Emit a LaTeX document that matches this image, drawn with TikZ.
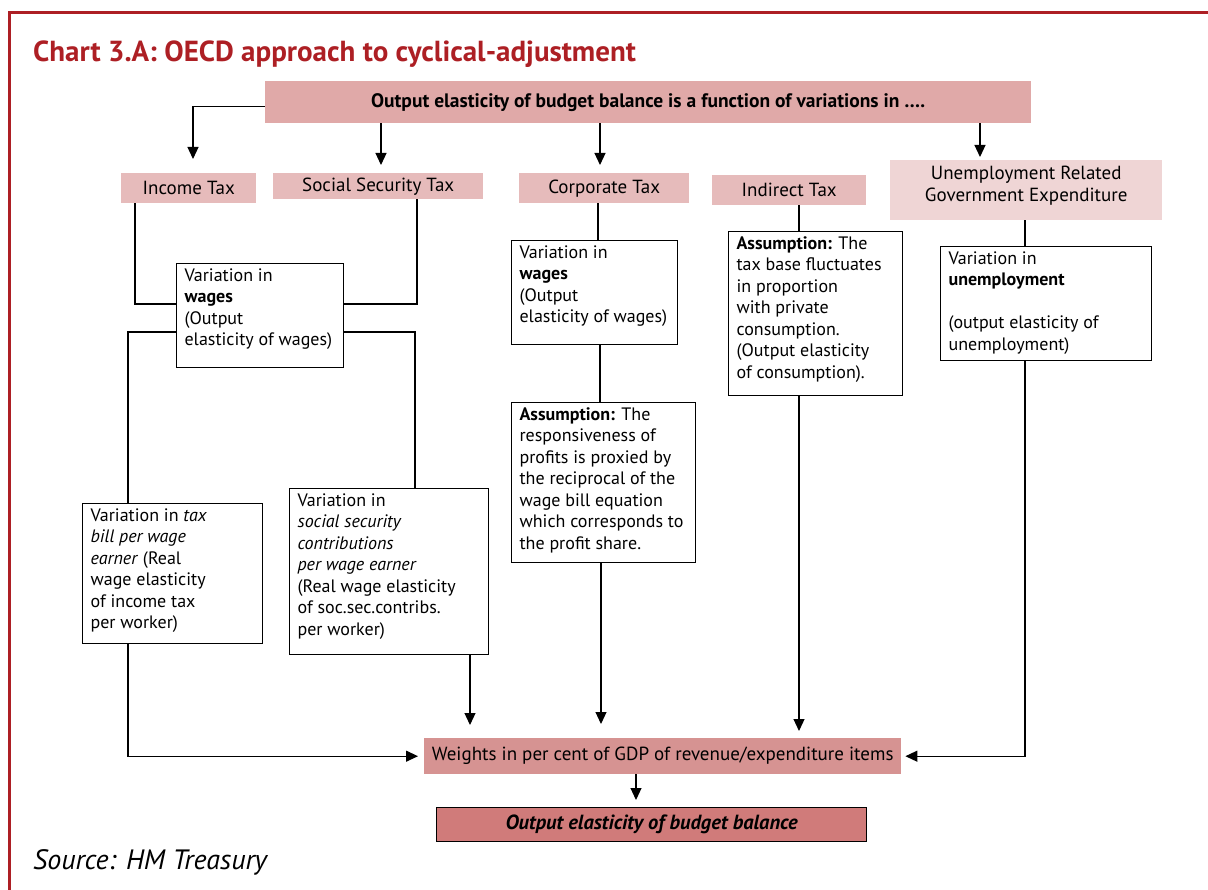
\documentclass[tikz,border=0pt]{standalone}
\usepackage{fontspec}
\setmainfont{PT Sans}
\usepackage{xcolor}
\usepackage{tikz}
\usetikzlibrary{arrows.meta,positioning}
\definecolor{chartred}{HTML}{AD1F24}
\definecolor{topfill}{HTML}{E0A9A8}
\definecolor{taxfill}{HTML}{E6BBBB}
\definecolor{expfill}{HTML}{EFD5D5}
\definecolor{wtsfill}{HTML}{D69392}
\definecolor{endfill}{HTML}{D07B7A}
\newcommand{\boxtxt}[3]{\parbox[t][#2pt][t]{#1pt}{\raggedright #3}}

\begin{document}
\begin{tikzpicture}[x=1pt,y=-1pt,
                    font=\fontsize{18}{21.5}\selectfont,
                    hdr/.style={anchor=north west, inner sep=0pt, align=center, font=\fontsize{19}{21.5}\selectfont},
                    txtbox/.style={draw, line width=1.2pt, anchor=north west, inner xsep=8pt, inner ysep=5pt},
                    conn/.style={line width=1.2pt},
                    arr/.style={line width=1.2pt, -{Triangle[length=12pt,width=11pt]}},
                   ]

\useasboundingbox (0,0) rectangle (1208,890);

% frame and title
\draw[chartred, line width=3pt] (1208,13) -- (9.5,13) -- (9.5,890);
\node[anchor=west, inner sep=0pt, text=chartred, font=\fontsize{29}{32}\selectfont\bfseries] (title) at (33,54) {Chart 3.A: OECD approach to cyclical-adjustment};

% header row
\node[hdr, fill=topfill, minimum width=766pt, minimum height=42pt, font=\fontsize{19.5}{21.5}\selectfont\bfseries] (top) at (265,81) {Output elasticity of budget balance is a function of variations in ….};
\node[hdr, fill=taxfill, minimum width=135pt, minimum height=30pt] (inc) at (121,173) {Income Tax};
\node[hdr, fill=taxfill, minimum width=210pt, minimum height=26pt] (ss) at (273,173) {Social Security Tax};
\node[hdr, fill=taxfill, minimum width=170pt, minimum height=30pt] (corp) at (519,173) {Corporate Tax};
\node[hdr, fill=taxfill, minimum width=154pt, minimum height=30pt] (ind) at (712,175) {Indirect Tax};
\node[hdr, fill=expfill, minimum width=272pt, minimum height=60pt] (unemp) at (890,160) {\parbox[c][48pt][t]{260pt}{\centering Unemployment Related\\Government Expenditure}};

% text boxes
\node[txtbox] (wg1) at (176,263) {\boxtxt{151}{94}{Variation in\\ \textbf{wages}\\ (Output\\ elasticity of wages)}};
\node[txtbox] (wg2) at (511,240) {\boxtxt{150}{94}{Variation in\\ \textbf{wages}\\ (Output\\ elasticity of wages)}};
\node[txtbox] (asm1) at (511,402) {\boxtxt{168}{150}{\textbf{Assumption:} The\\ responsiveness of\\ profits is proxied by\\ the reciprocal of the\\ wage bill equation\\ which corresponds to\\ the profit share.}};
\node[txtbox] (asm2) at (728,231) {\boxtxt{158}{154}{\textbf{Assumption:} The\\ tax base fluctuates\\ in proportion\\ with private\\ consumption.\\ (Output elasticity\\ of consumption).}};
\node[txtbox] (unv) at (940,246) {\boxtxt{195}{104}{Variation in\\ \textbf{unemployment}\\[21.5pt] (output elasticity of\\ unemployment)}};
\node[txtbox] (tbill) at (82,503) {\boxtxt{164}{130}{Variation in \textit{tax}\\ \textit{bill per wage}\\ \textit{earner} (Real\\ wage elasticity\\ of income tax\\ per worker)}};
\node[txtbox] (sscon) at (289,488) {\boxtxt{183}{156}{Variation in\\ \textit{social security}\\ \textit{contributions}\\ \textit{per wage earner}\\ (Real wage elasticity\\ of soc.sec.contribs.\\ per worker)}};

% bottom
\node[hdr, fill=wtsfill, minimum width=477pt, minimum height=36pt] (wts) at (424,738) {Weights in per cent of GDP of revenue/expenditure items};
\node[hdr, fill=endfill, draw, line width=1.2pt, minimum width=430pt, minimum height=34pt, font=\fontsize{20.5}{21.5}\selectfont\bfseries\itshape] (final) at (436,807) {Output elasticity of budget balance};
\node[anchor=base west, inner sep=0pt, font=\fontsize{28}{32}\selectfont\itshape] (src) at (33,869) {Source: HM Treasury};

% connectors from the header
\draw[arr, shorten >=14pt] ([yshift=-4pt]top.west) -| (193,0 |- inc.north);
\draw[arr, shorten >=8pt] (381,0 |- top.south) -- (381,0 |- ss.north);
\draw[arr, shorten >=8pt] (600,0 |- top.south) -- (600,0 |- corp.north);
\draw[arr, shorten >=3pt] (980,0 |- top.south) -- (980,0 |- unemp.north);

% income and social security tax
\draw[conn] (135,0 |- inc.south) |- (wg1.west |- 0,304);
\draw[conn] (417,0 |- ss.south) |- (wg1.east |- 0,304);
\draw[conn] (wg1.west |- 0,332) -| (128,0 |- tbill.north);
\draw[conn] (wg1.east |- 0,332) -| (415,0 |- sscon.north);
\draw[arr, shorten >=6pt] (128,0 |- tbill.south) |- (wts.west);
\draw[arr, shorten >=13pt] (470,0 |- sscon.south) -- (470,0 |- wts.north);

% corporate and indirect tax
\draw[conn] (598,0 |- corp.south) -- (598,0 |- wg2.north);
\draw[conn] (600,0 |- wg2.south) -- (600,0 |- asm1.north);
\draw[arr, shorten >=14pt] (601,0 |- asm1.south) -- (601,0 |- wts.north);
\draw[conn] (799,0 |- ind.south) -- (799,0 |- asm2.north);
\draw[arr, shorten >=7pt] (799,0 |- asm2.south) -- (799,0 |- wts.north);

% unemployment
\draw[conn] (1025,0 |- unemp.south) -- (1025,0 |- unv.north);
\draw[arr, shorten >=4pt] (1025,0 |- unv.south) |- (wts.east);

\draw[arr, shorten >=7pt] (636,0 |- wts.south) -- (636,0 |- final.north);

\end{tikzpicture}
\end{document}
